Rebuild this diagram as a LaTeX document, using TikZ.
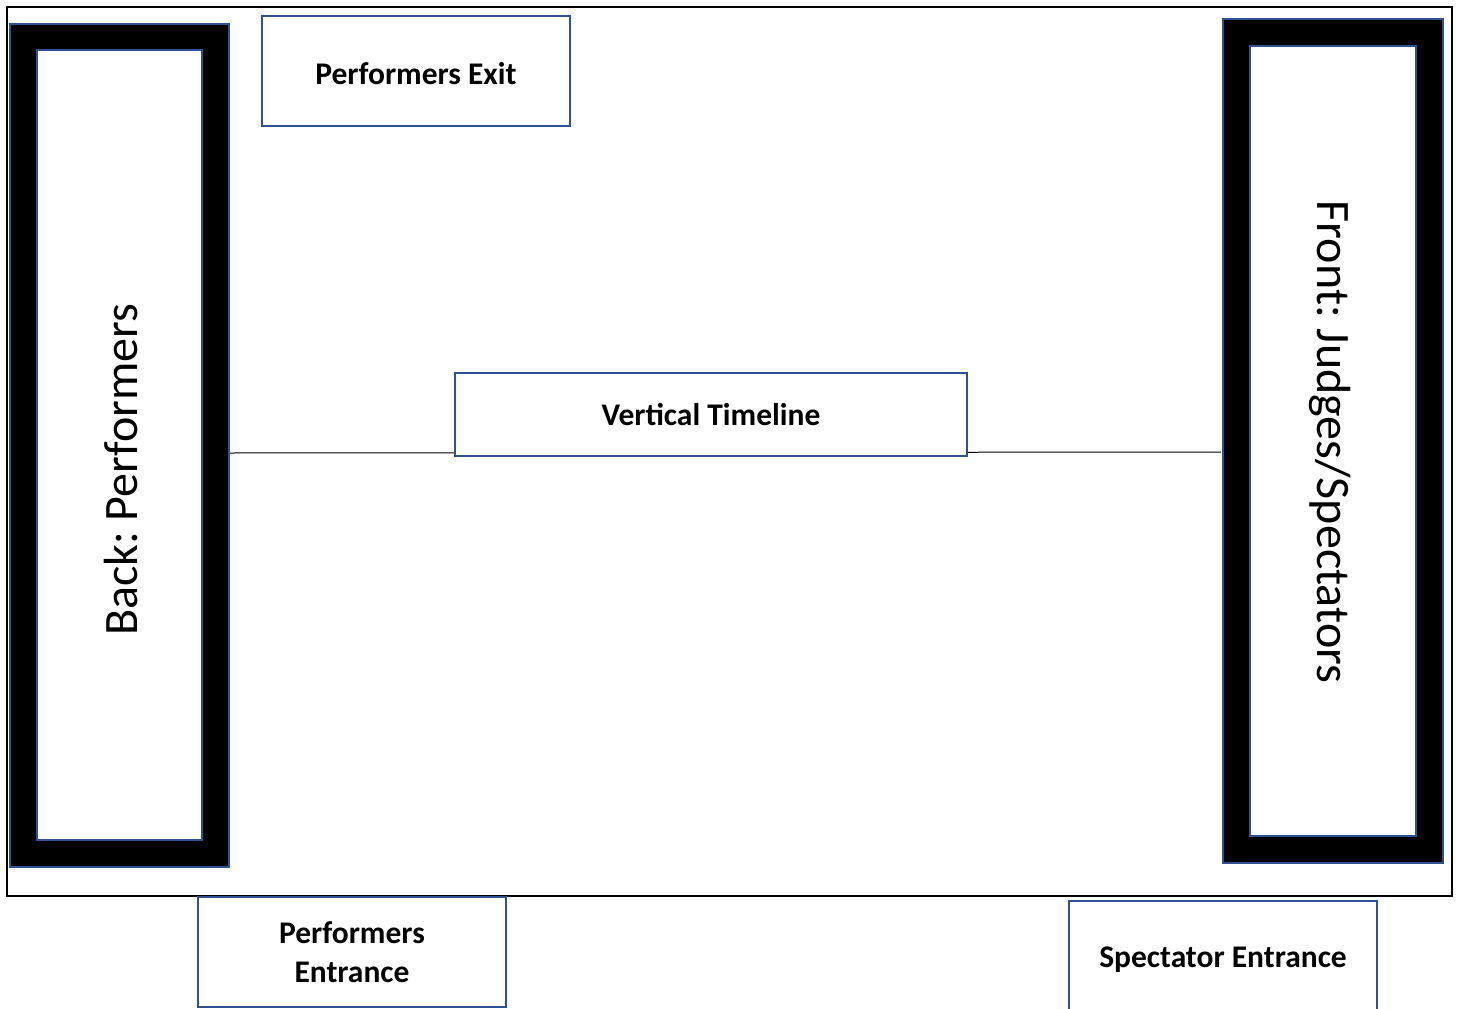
\documentclass[tikz,border=0pt]{standalone}
\usepackage{fontspec}
\setmainfont{Carlito}
\definecolor{obl}{RGB}{47,82,143}
\frenchspacing
\begin{document}
\begin{tikzpicture}[x=1pt,y=-1pt,
  lbl/.style={draw=obl,line width=2pt,fill=white,inner sep=0pt,align=center,font=\bfseries\fontsize{31.5}{39}\selectfont},
  stand/.style={draw=obl,line width=2pt,fill=black,inner sep=0pt},
  standin/.style={draw=obl,line width=2pt,fill=white,inner sep=0pt},
  side/.style={font=\fontsize{48}{54}\selectfont,inner sep=0pt}]
\useasboundingbox (0,0) rectangle (1457,1009);
\node[draw=black,line width=2pt,minimum width=1445pt,minimum height=889pt,inner sep=0pt] (frame) at (729.5,451.5) {};
% stands
\node[stand,minimum width=219pt,minimum height=843pt] (backouter) at (119.5,445.5) {};
\node[standin,minimum width=165pt,minimum height=790pt] (backinner) at (119.5,445) {};
\node[side,rotate=90] (backlbl) at (121,470) {Back: Performers};
\node[stand,minimum width=220pt,minimum height=844pt] (frontouter) at (1333,441) {};
\node[standin,minimum width=166pt,minimum height=790pt] (frontinner) at (1333,441) {};
\node[side,rotate=-90] (frontlbl) at (1330,442) {Front: Judges/Spectators};
% timeline
\coordinate (tl) at (backouter.east |- 0,453);
\coordinate (tr) at (1221,452);
\draw[line width=1pt] (tl) -- (tr);
\node[lbl,minimum width=512pt,minimum height=83pt] (vt) at (711,414.5) {Vertical Timeline};
% labels
\node[lbl,minimum width=308pt,minimum height=110pt] (pexit) at (416,71) {\raisebox{0pt}[26pt][0pt]{Performers Exit}};
\node[lbl,minimum width=308pt,minimum height=110pt] (pent) at (352,952) {Performers\\Entrance};
\node[lbl,minimum width=308pt,minimum height=118pt] (sent) at (1223,960) {Spectator Entrance};
\end{tikzpicture}
\end{document}
